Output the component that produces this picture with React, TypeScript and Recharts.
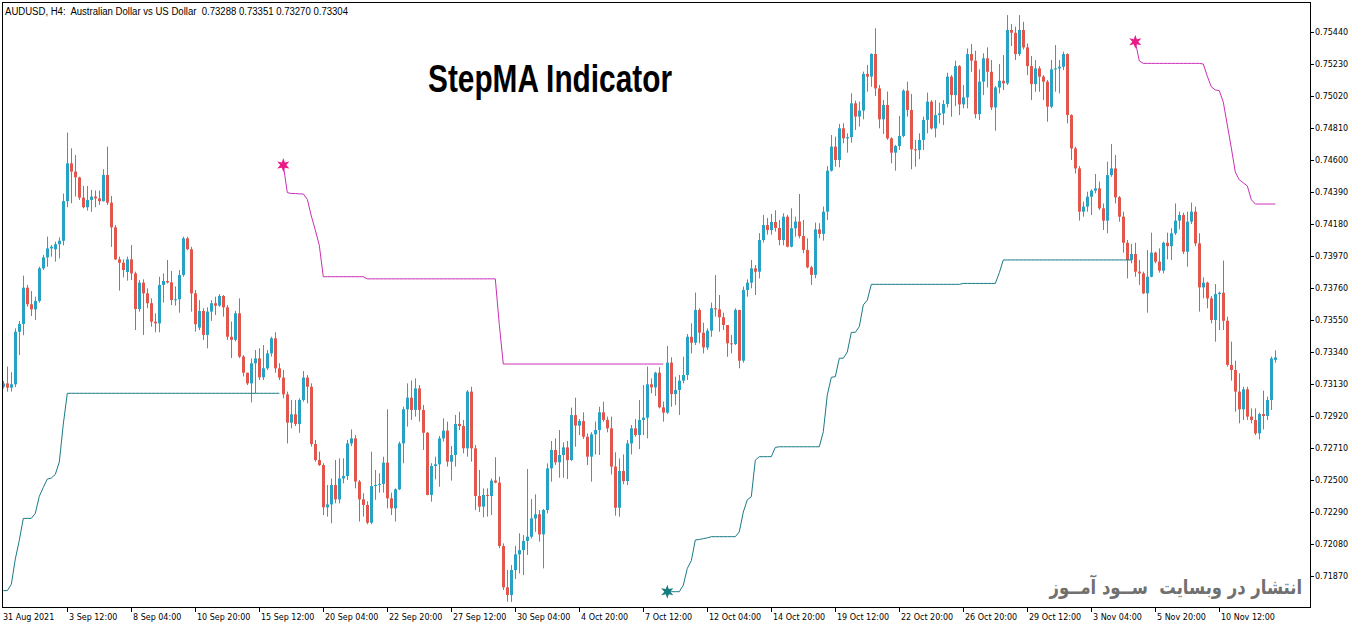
import React from "react";
import { ComposedChart, XAxis, YAxis, Bar, Line, Scatter } from "recharts";

// OHLC in pips (price * 10000), one tuple per H4 bar: [open, high, low, close]
const ohlc: [number, number, number, number][] = [
[7311.2,7315,7310,7313.4],[7313.4,7324.4,7308,7310.6],[7310.6,7320.7,7308,7312.8],[7312.8,7349.5,7311,7347.3],[7347.3,7354.4,7332,7352.4],
[7352.4,7384.1,7345,7376.2],[7376.2,7378,7363.7,7365.3],[7365.3,7374,7357.6,7362],[7362,7370.3,7355,7367.5],[7367.5,7390,7366.4,7388.9],
[7388.9,7397.7,7387.8,7396.1],[7396.1,7409.7,7390,7402],[7402,7404.2,7396.6,7403.1],[7401.4,7406.4,7393.3,7404.7],[7404.7,7409.2,7395.5,7407],
[7407,7438,7404,7433],[7433,7478,7429,7457.8],[7457.8,7467.7,7431.6,7452.4],[7452.4,7463.3,7436,7448.6],[7448.6,7449,7433.7,7435.3],
[7435.3,7443,7428.3,7429],[7429,7443,7426.8,7433.8],[7433.8,7440.3,7426,7436],[7436,7440,7429,7434.8],[7434.8,7440,7430.5,7433],
[7433,7453.9,7432.7,7450.2],[7450.2,7468.8,7430.5,7432],[7432,7436.4,7403,7415.8],[7415.8,7417.3,7394.4,7394.8],[7394.8,7396.6,7374.3,7392.6],
[7392.6,7394.8,7383,7387.8],[7386.5,7396.6,7380.8,7394.8],[7394.8,7404.2,7381.2,7385.6],[7385.6,7386.7,7348.4,7362.2],[7362.2,7381.2,7360.5,7379.5],
[7379.5,7381.7,7345.2,7372.5],[7372.5,7375.8,7362.7,7366],[7366,7369.2,7350.6,7353.9],[7353.9,7359.4,7346.9,7352.8],[7352.8,7383.4,7346.9,7378],
[7378,7385.6,7366.4,7380.6],[7380.6,7394.4,7379,7379.7],[7379.7,7387.2,7364.8,7368.1],[7368.1,7377,7364.4,7368.6],[7368.6,7387.8,7359.8,7384.5],
[7384.5,7409.7,7383.4,7408.6],[7408.6,7409.7,7401,7401.4],[7401.4,7403,7360.5,7372.5],[7372.5,7374.7,7347.3,7352.2],[7350,7368,7348.4,7360.9],
[7360.9,7362.7,7341.9,7345.2],[7345.2,7363.3,7336.4,7360.5],[7360.5,7368,7354.4,7366],[7366,7370.3,7358.3,7364.4],[7364.4,7372,7363.7,7370.8],
[7370.8,7371.4,7357.2,7363.3],[7363.3,7364.8,7341.9,7344],[7344,7354,7330,7342],[7342,7361,7341,7359.4],[7359.4,7369.2,7330,7331],
[7331,7332,7318,7320.4],[7320.4,7320.4,7312.3,7313.4],[7313.4,7329.8,7301,7326.6],[7326.6,7335.3,7306.9,7329.8],[7329.8,7336.4,7315.6,7317.4],
[7317.4,7338.6,7315.6,7323.3],[7323.3,7335.3,7322.2,7333.1],[7333.1,7344,7331,7343],[7343,7346.9,7320.4,7323.3],[7323.3,7326.6,7315.6,7317.2],
[7317.2,7322.2,7303.6,7306.2],[7306.2,7308,7274,7287.6],[7287.6,7302.5,7283.9,7293.1],[7293.1,7302.5,7285.4,7286.7],[7286.7,7303.6,7281,7302.5],
[7302.5,7321.5,7301.4,7317.2],[7317.2,7318.9,7300.3,7311.2],[7311.2,7313.4,7271.9,7273.6],[7273.6,7276.3,7262,7263.1],[7263.1,7268.6,7259.2,7259.8],
[7259.8,7261,7227,7232.1],[7232.1,7246.7,7226,7234],[7234,7251,7221.6,7246.7],[7246.7,7263.1,7234.7,7237.3],[7237.3,7264.2,7234.7,7251],
[7251,7264.2,7247.8,7252.6],[7252.6,7276.3,7250,7274],[7274,7283.2,7272.3,7277.3],[7277.3,7279.5,7244.5,7249],[7249,7250,7222.7,7237.3],
[7237.3,7241.3,7226,7233.6],[7233.6,7236,7221,7222],[7222,7268.6,7221,7246],[7246,7256.6,7237,7246.8],[7246.8,7254.4,7241.7,7247.4],
[7247.4,7265.3,7241.7,7261.4],[7261.4,7296.4,7231.4,7238],[7238,7241.7,7227,7231.4],[7231.4,7244.5,7222.7,7243.9],[7243.9,7275.2,7243.4,7274],
[7274,7298.1,7261,7296.4],[7296.4,7313.4,7285,7304],[7304,7315.2,7289.4,7296],[7296,7316.7,7291.6,7310.1],[7310.1,7312.3,7288.3,7296],
[7296,7299.2,7269.7,7281],[7281,7281.5,7240,7240.2],[7240.2,7261,7235.8,7259.2],[7259.2,7265.3,7250.4,7260.3],[7260.3,7278.9,7245.6,7277.3],
[7277.3,7290.5,7275.2,7282.4],[7282.4,7288.3,7258.8,7262],[7262,7272.3,7249.6,7266.4],[7266.4,7292.7,7258.8,7286.8],[7286.8,7294.8,7282.8,7285.4],
[7285.4,7289.4,7267.5,7270.8],[7270.8,7309,7265.3,7308],[7308,7311.2,7262,7270.8],[7270.8,7273,7230.3,7239.5],[7239.5,7256.6,7229,7232.5],
[7232.5,7244.5,7225.5,7240.2],[7240.2,7244.5,7226,7239.5],[7239.5,7251,7227,7249.6],[7249.6,7264.9,7247.8,7248.3],[7248.3,7252.2,7205.2,7206.7],
[7206.7,7208.4,7177.8,7179.6],[7179.6,7191,7170.2,7174.5],[7174.5,7194.2,7170,7190.9],[7190.9,7206.9,7185,7201.2],[7201.2,7215,7188.7,7204],
[7204,7213.9,7187.6,7210],[7210,7257.2,7200.8,7212.8],[7212.8,7237.5,7211.7,7224.8],[7224.8,7240.6,7216,7227.5],[7227.5,7230.3,7209.5,7214.3],
[7214.3,7231,7192,7230.3],[7230.3,7260.9,7228.1,7257.6],[7257.6,7275.6,7248.9,7269.7],[7269.7,7277.3,7259.9,7261.6],[7261.6,7282.8,7251.5,7266.4],
[7266.4,7274.7,7251.5,7271.4],[7271.4,7275.6,7250.6,7263.1],[7263.1,7297.5,7262.5,7292.6],[7292.6,7304,7271.9,7285.7],[7285.7,7290,7279.5,7288.7],
[7288.7,7294.4,7276.9,7278.4],[7278.4,7280.6,7259.8,7265.3],[7265.3,7281.3,7248.9,7280],[7280,7288.3,7266.8,7282.8],[7282.8,7298.1,7266.4,7294.4],
[7294.4,7301.4,7288.3,7289.4],[7289.4,7291.6,7281.3,7283.9],[7283.9,7291.6,7253.7,7258.8],[7258.8,7268.2,7226.6,7231.8],[7231.8,7264.2,7225.9,7255.9],
[7255.9,7266.8,7247.2,7249.3],[7249.3,7276.2,7246.7,7274],[7274,7286.1,7266.8,7283.9],[7283.9,7290,7278.4,7279.5],[7279.5,7302.5,7270.3,7289.4],
[7289.4,7312.3,7279.5,7290.9],[7290.9,7324.4,7277.3,7312.8],[7312.8,7316.7,7306.9,7310.8],[7310.8,7321,7305.1,7320.4],[7320.4,7324,7297,7297.7],
[7297.7,7301.4,7288.3,7294.2],[7294.2,7338,7293.3,7327],[7327,7330.5,7298.1,7306.4],[7306.4,7317.8,7299.2,7309.1],[7309.1,7318.9,7292.7,7315.2],
[7315.2,7330.9,7313.4,7318.9],[7318.9,7345.8,7315.6,7344],[7344,7352.8,7333.1,7340.1],[7340.1,7373,7338.6,7361.6],[7361.6,7362.7,7339.7,7346.7],
[7346.7,7353.2,7333.1,7337],[7337,7349.5,7335.3,7348],[7348,7366.4,7344,7362.7],[7362.7,7384.5,7357.2,7362],[7362,7371.4,7347.3,7356.8],
[7356.8,7359.8,7348.4,7351.7],[7351.7,7351.7,7330.9,7339.7],[7339.7,7345.2,7333.1,7339.2],[7339.2,7362.7,7338.6,7361.6],[7361.6,7361.6,7323.3,7328.3],
[7328.3,7376.9,7327,7374.7],[7374.7,7381.7,7370.3,7379.5],[7379.5,7394.4,7375.8,7388.9],[7388.9,7391.1,7371.4,7386.7],[7386.7,7412,7382.3,7407.5],
[7407.5,7424,7406,7417.3],[7417.3,7422,7411,7414],[7414,7424.6,7411,7419.3],[7419.3,7427,7413,7415.4],[7415.4,7420.6,7404,7407.5],
[7407.5,7425,7404,7422.8],[7422.8,7424,7402.7,7403.1],[7403.1,7428.3,7402.7,7415.2],[7415.2,7422.8,7409.7,7419.6],[7419.6,7437.7,7408.6,7410.1],
[7410.1,7420.6,7398.8,7401],[7401,7408.6,7388.9,7389.6],[7389.6,7390.5,7378,7384.6],[7384.6,7418.9,7382.4,7414.5],[7414.5,7418.5,7408.6,7411.5],
[7411.5,7429.4,7407.1,7426.1],[7426.1,7456,7420.6,7453],[7453,7476.4,7452.4,7468.8],[7468.8,7475.3,7455.6,7460],[7460,7483.7,7455.2,7480.8],
[7480.8,7484.1,7471,7474.2],[7474.2,7477.5,7464.8,7475],[7475,7503.8,7471.4,7497.2],[7497.2,7499,7479.7,7488.5],[7488.5,7498.3,7481.9,7492.4],
[7492.4,7518,7486.7,7516.5],[7516.5,7522.4,7504.9,7514.7],[7514.7,7530,7508.1,7529.6],[7529.6,7546.4,7502,7507],[7507,7509.2,7480.8,7486.7],
[7486.7,7499.4,7477.1,7496.1],[7496.1,7504.9,7473.2,7474.2],[7474.2,7474.9,7457.8,7464.8],[7464.8,7469.9,7453,7469.2],[7469.2,7488.9,7466.6,7475.8],
[7475.8,7506.4,7474.9,7505.5],[7505.5,7511.4,7488.5,7492.8],[7492.8,7503.3,7453.9,7467],[7467,7473.2,7455.6,7466.6],[7466.6,7477.5,7460.5,7473.2],
[7473.2,7488.5,7466.6,7486.3],[7486.3,7504.2,7477.5,7498.3],[7498.3,7499.3,7480,7480.7],[7480.7,7499.3,7474.8,7489.5],[7489.5,7497.6,7484,7490.6],
[7490.6,7499.3,7482.9,7496.7],[7496.7,7517.3,7494.5,7514.7],[7514.7,7515.7,7488.4,7502.6],[7502.6,7525.2,7495.4,7521.6],[7521.6,7522.3,7489.5,7496.5],
[7496.5,7509.2,7493.9,7501.1],[7501.1,7533.2,7493.9,7529.5],[7529.5,7536.1,7517.9,7525.2],[7525.2,7531.7,7487.3,7490.1],[7490.1,7519.5,7486.2,7511.4],
[7511.4,7530,7502.6,7526.7],[7526.7,7533.9,7507.6,7517.9],[7517.9,7525.6,7492.8,7494.5],[7494.5,7508.5,7479.2,7507.6],[7507.6,7523,7503.7,7512],
[7512,7528.9,7505.9,7510.3],[7510.3,7555.1,7509.2,7545.3],[7545.3,7549.2,7534.8,7543.5],[7543.5,7547.5,7525.6,7529.5],[7529.5,7555.1,7528.2,7545.3],
[7545.3,7550.7,7532.6,7533.9],[7533.9,7536.5,7515.7,7521.6],[7521.6,7528.2,7499.3,7509.8],[7509.8,7525.6,7504.8,7520.1],[7520.1,7521.6,7504.8,7514.7],
[7514.7,7515.7,7499.3,7511.4],[7511.4,7512.5,7485.1,7495],[7495,7525.6,7494,7519.5],[7519.5,7535.4,7504.8,7520.1],[7520.1,7525.6,7503.7,7521.2],
[7521.2,7531,7519,7529.5],[7529.5,7530,7484,7489.5],[7489.5,7490,7460,7467.6],[7467.6,7468.7,7451.2,7454.5],[7454.5,7456,7420.2,7426.1],
[7426.1,7432.6,7422.8,7429.4],[7429.4,7439.2,7426.1,7435.9],[7435.9,7440.7,7423.9,7439.9],[7439.9,7450.8,7438.1,7441.4],[7441.4,7445.8,7427.2,7428.3],
[7428.3,7431.5,7414.1,7420.2],[7420.2,7458.9,7411.9,7450.1],[7450.1,7470.5,7449,7454.5],[7454.5,7463.3,7431.5,7435.5],[7435.5,7436.4,7419.5,7422.8],
[7422.8,7426.1,7399.2,7405.7],[7405.7,7407.5,7382.3,7394.4],[7394.4,7404.9,7392.2,7398.3],[7398.3,7405.7,7383.4,7386.7],[7386.7,7394.4,7378,7385.6],
[7385.6,7386.7,7372,7372.5],[7372.5,7400.9,7359.8,7383.4],[7383.4,7412.3,7383,7399.2],[7399.2,7399.8,7392.2,7393.3],[7393.3,7402,7386.1,7387.4],
[7387.4,7406.4,7385.6,7405.7],[7405.7,7412.3,7394.8,7403.5],[7403.5,7415.2,7394.4,7411.9],[7411.9,7431.5,7410.8,7420.2],[7420.2,7426.1,7414.5,7423.9],
[7423.9,7425.4,7398.3,7399.8],[7399.8,7426.1,7390,7419.5],[7419.5,7432,7418,7426.1],[7426.1,7429.4,7403.5,7405.3],[7405.3,7411.9,7360.5,7376.4],
[7376.4,7383,7369.2,7379.5],[7379.5,7380.1,7362.7,7369.2],[7369.2,7370.7,7352.8,7355],[7355,7378.6,7340.8,7372],[7372,7373.6,7348.4,7372.9],
[7372.9,7394,7348.4,7354.5],[7354.5,7357.2,7324.4,7325.5],[7325.5,7340.8,7315.2,7322.2],[7322.2,7328.3,7294.8,7308],[7308,7320,7287.2,7296.4],
[7296.4,7311.2,7289.4,7309.5],[7309.5,7311.2,7289.4,7291.6],[7291.6,7297,7287.2,7289.4],[7289.4,7297,7279.5,7280.6],[7280.6,7294.2,7276.7,7293.3],
[7293.3,7308.6,7283.2,7292],[7292,7304.7,7289.4,7302.5],[7302.5,7331,7296,7329.8],[7328.8,7335.1,7327,7330.4],
];

// StepMA lower (teal) line, segment 1 starts at bar 0
const lowerStart1 = 0;
const lower1 = [
7177.4,7177.4,7181.5,7198.1,7210.4,7224.8,7224.8,7224.8,7228.1,7239.3,
7245.2,7250.6,7251.3,7253.7,7261.8,7286.7,7306.9,7306.9,7306.9,7306.9,
7306.9,7306.9,7306.9,7306.9,7306.9,7306.9,7306.9,7306.9,7306.9,7306.9,
7306.9,7306.9,7306.9,7306.9,7306.9,7306.9,7306.9,7306.9,7306.9,7306.9,
7306.9,7306.9,7306.9,7306.9,7306.9,7306.9,7306.9,7306.9,7306.9,7306.9,
7306.9,7306.9,7306.9,7306.9,7306.9,7306.9,7306.9,7306.9,7306.9,7306.9,
7306.9,7306.9,7306.9,7306.9,7306.9,7306.9,7306.9,7306.9,7306.9,7306.9,
];
// StepMA upper (magenta) line, segment 1 starts at bar 70
const upperStart1 = 70;
const upper1 = [
7456.7,7438.6,7438,7438,7437.8,7437.7,7434.2,7423.3,7414,7404,
7383.4,7383.4,7383.4,7383.4,7383.4,7383.4,7383.4,7383.4,7383.4,7383.4,
7383.4,7382,7382,7382,7382,7382,7382,7382,7382,7382,
7382,7382,7382,7382,7382,7382,7382,7382,7382,7382,
7382,7382,7382,7382,7382,7382,7382,7382,7382,7382,
7382,7382,7382,7382,7352,7326.1,7326.1,7326.1,7326.1,7326.1,
7326.1,7326.1,7326.1,7326.1,7326.1,7326.1,7326.1,7326.1,7326.1,7326.1,
7326.1,7326.1,7326.1,7326.1,7326.1,7326.1,7326.1,7326.1,7326.1,7326.1,
7326.1,7326.1,7326.1,7326.1,7326.1,7326.1,7326.1,7326.1,7326.1,7326.1,
7326.1,7326.1,7326.1,7326.1,7326.1,7326.1,
];
// lower line, segment 2 starts at bar 166
const lowerStart2 = 166;
const lower2 = [
7176.7,7176.7,7176.7,7176.7,7181,7192,7197,7210.6,7211,7211.5,
7212,7212.8,7212.8,7212.8,7212.8,7212.8,7212.8,7212.8,7216,7229,
7237,7239,7263,7265.3,7265.3,7265.3,7265.3,7271.4,7271.8,7271.8,
7271.8,7271.8,7271.8,7271.8,7271.8,7271.8,7271.8,7271.8,7271.8,7281.7,
7305.8,7317.4,7317.8,7329.9,7329.9,7334,7346.9,7346.9,7350.6,7364.9,
7368,7378.4,7378.4,7378.4,7378.4,7378.4,7378.4,7378.4,7378.4,7378.4,
7378.4,7378.4,7378.4,7378.4,7378.4,7378.4,7378.4,7378.4,7378.4,7378.4,
7378.4,7378.4,7378.4,7378.4,7379,7379,7379,7379,7379,7379,
7379,7379,7379,7386,7394.4,7394.4,7394.4,7394.4,7394.4,7394.4,
7394.4,7394.4,7394.4,7394.4,7394.4,7394.4,7394.4,7394.4,7394.4,7394.4,
7394.4,7394.4,7394.4,7394.4,7394.4,7394.4,7394.4,7394.4,7394.4,7394.4,
7394.4,7394.4,7394.4,7394.4,7394.4,7394.4,7394.4,
];
// upper line, segment 2 starts at bar 283
const upperStart2 = 283;
const upper2 = [
7537.6,7525,7523.4,7523.4,7523.4,7523.4,7523.4,7523.4,7523.4,7523.4,
7523.4,7523.4,7523.4,7523.4,7523.4,7523.4,7523.4,7523,7515,7508,
7506,7505.5,7498,7483,7468,7452,7447,7445,7443,7434,
7431.1,7431.1,7431.1,7431.1,7431.1,7431.1,
];

const timeTickBars = [0,16,32,48,64,80,96,112,128,144,160,176,192,208,224,240,256,272,288,304];
const timeLabels = ["31 Aug 2021","3 Sep 12:00","8 Sep 04:00","10 Sep 20:00","15 Sep 12:00","20 Sep 04:00","22 Sep 20:00","27 Sep 12:00","30 Sep 04:00","4 Oct 20:00","7 Oct 12:00","12 Oct 04:00","14 Oct 20:00","19 Oct 12:00","22 Oct 20:00","26 Oct 20:00","29 Oct 12:00","3 Nov 04:00","5 Nov 20:00","10 Nov 12:00"];
const priceTicks = [0.7187,0.7208,0.7229,0.725,0.7271,0.7292,0.7313,0.7334,0.7355,0.7376,0.7397,0.7418,0.7439,0.746,0.7481,0.7502,0.7523,0.7544];

const BLUE = "#27a2c5";
const RED = "#e2574c";
const MAGENTA = "#c92fb5";
const TEAL = "#1b7a85";
const STAR_PINK = "#ea1a86";
const STAR_TEAL = "#177c7c";

const seg = (arr: number[], start: number, i: number) =>
  i >= start && i < start + arr.length ? arr[i - start] / 10000 : null;

const rows = ohlc.map((d, i) => ({
  i,
  o: d[0] / 10000,
  h: d[1] / 10000,
  l: d[2] / 10000,
  c: d[3] / 10000,
  range: [d[2] / 10000, d[1] / 10000],
  up: seg(upper1, upperStart1, i) ?? seg(upper2, upperStart2, i),
  dn: seg(lower1, lowerStart1, i) ?? seg(lower2, lowerStart2, i),
}));

const starsUp = [
  { i: upperStart1, v: upper1[0] / 10000 },
  { i: upperStart2, v: upper2[0] / 10000 },
];
const starsDn = [{ i: lowerStart2, v: lower2[0] / 10000 }];

function Candle(props: any) {
  const { x, y, width, height, payload } = props;
  if (!payload || height == null || isNaN(y)) return null;
  const { o, h, l, c } = payload;
  const top = Math.min(y, y + height);
  const span = Math.abs(height);
  const px = Math.round(x + width / 2);
  const k = h === l ? 0 : span / (h - l);
  const yO = top + (h - o) * k;
  const yC = top + (h - c) * k;
  const color = c >= o ? BLUE : RED;
  const bt = Math.min(yO, yC);
  const bh = Math.max(Math.abs(yO - yC), 1);
  return (
    <g>
      <line x1={px + 0.5} x2={px + 0.5} y1={top} y2={top + span} stroke={color} strokeWidth={1} />
      <rect x={px - 1} y={bt} width={3} height={bh} fill={color} />
    </g>
  );
}

function starPath(cx: number, cy: number, ro: number, ri: number) {
  const pts: string[] = [];
  for (let k = 0; k < 12; k++) {
    const r = k % 2 === 0 ? ro : ri;
    const a = (Math.PI / 6) * k - Math.PI / 2;
    pts.push(`${cx + r * Math.cos(a)},${cy + r * Math.sin(a)}`);
  }
  return pts.join(" ");
}

const makeStar = (color: string) => (props: any) => {
  const { cx, cy } = props;
  if (cx == null || cy == null) return null;
  return <polygon points={starPath(cx, cy, 7, 3)} fill={color} />;
};

function PriceTick(props: any) {
  const { x, y, payload } = props;
  return (
    <g>
      <line x1={x} x2={x + 4} y1={y + 0.5} y2={y + 0.5} stroke="#000" strokeWidth={1} />
      <text x={x + 5} y={y} dy="0.35em" fontFamily="'DejaVu Sans', sans-serif" fontSize={8} fill="#000">
        {Number(payload.value).toFixed(5)}
      </text>
    </g>
  );
}

function TimeTick(props: any) {
  const { x, y, payload } = props;
  const idx = timeTickBars.indexOf(payload.value);
  const label = idx >= 0 ? timeLabels[idx] : "";
  const tx = Math.round(x);
  return (
    <g>
      {idx > 0 && <line x1={tx + 0.5} x2={tx + 0.5} y1={y} y2={y + 4} stroke="#000" strokeWidth={1} />}
      <text x={idx === 0 ? 3 : tx + 2} y={y + 12} fontFamily="'DejaVu Sans', sans-serif" fontSize={8} fill="#000">
        {label}
      </text>
    </g>
  );
}

export default function App() {
  return (
    <div style={{ position: "absolute", left: 0, top: 0, width: 1362, height: 628, background: "#fff" }}>
      <ComposedChart width={1362} height={628} data={rows} margin={{ top: 2, right: 0, bottom: 0, left: 2 }}>
        <XAxis
          dataKey="i"
          type="number"
          domain={[-0.325, 326.675]}
          allowDataOverflow
          ticks={timeTickBars}
          interval={0}
          height={20}
          tickLine={false}
          axisLine={false}
          tickSize={0}
          tickMargin={0}
          tick={<TimeTick />}
        />
        <YAxis
          orientation="right"
          type="number"
          domain={[0.7166, 0.75636875]}
          allowDataOverflow
          ticks={priceTicks}
          interval={0}
          width={52}
          tickLine={false}
          axisLine={false}
          tickSize={0}
          tickMargin={0}
          tick={<PriceTick />}
        />
        <Bar dataKey="range" barSize={3} shape={<Candle />} isAnimationActive={false} />
        <Line dataKey="up" type="linear" stroke={MAGENTA} strokeWidth={1} dot={false} activeDot={false} isAnimationActive={false} connectNulls={false} />
        <Line dataKey="dn" type="linear" stroke={TEAL} strokeWidth={1} dot={false} activeDot={false} isAnimationActive={false} connectNulls={false} />
        <Scatter data={starsUp} dataKey="v" shape={makeStar(STAR_PINK)} isAnimationActive={false} />
        <Scatter data={starsDn} dataKey="v" shape={makeStar(STAR_TEAL)} isAnimationActive={false} />
      </ComposedChart>
      <svg width={1362} height={628} style={{ position: "absolute", left: 0, top: 0, pointerEvents: "none" }}>
        <rect x={2.5} y={2.5} width={1308} height={605} fill="none" stroke="#000" strokeWidth={1} />
        <text x={5} y={14.5} fontFamily="'Liberation Sans', Arial, sans-serif" fontSize={10} fill="#000" textLength={343} lengthAdjust="spacingAndGlyphs" style={{ whiteSpace: "pre" }}>
          {"AUDUSD, H4:  Australian Dollar vs US Dollar  0.73288 0.73351 0.73270 0.73304"}
        </text>
        <text x={428} y={92} fontFamily="'Liberation Sans Narrow', 'Liberation Sans', sans-serif" fontWeight="bold" fontSize={38} fill="#000" textLength={244} lengthAdjust="spacingAndGlyphs">
          StepMA Indicator
        </text>
      </svg>
      <div
        dir="rtl"
        style={{
          position: "absolute",
          right: 60,
          top: 574,
          fontFamily: "'DejaVu Sans', sans-serif",
          fontWeight: "bold",
          fontSize: 20,
          lineHeight: "26px",
          color: "#707070",
          whiteSpace: "pre",
          transform: "scaleX(0.82)",
          transformOrigin: "right center",
        }}
      >
        {"انتشار در وبسایت  ســود آمــوز"}
      </div>
    </div>
  );
}
